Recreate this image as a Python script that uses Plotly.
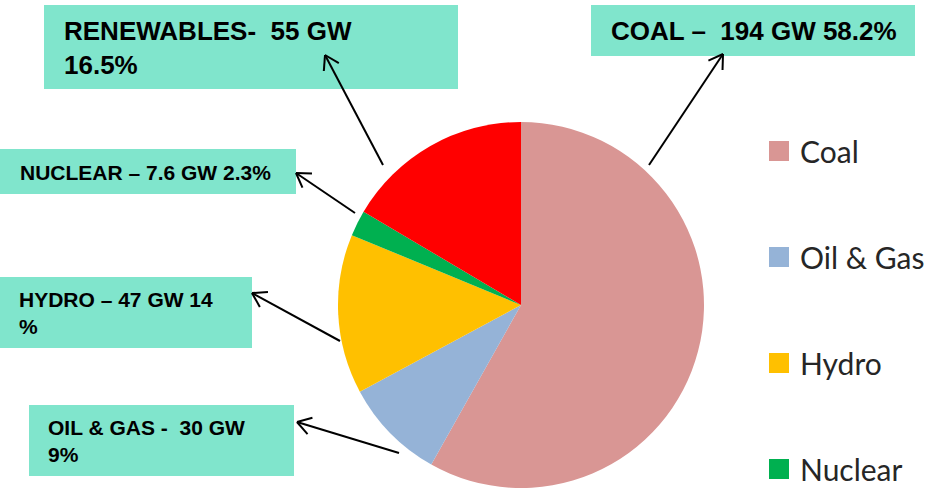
import math
import plotly.graph_objects as go

# ---------------- data ----------------
labels = ["Coal", "Oil & Gas", "Hydro", "Nuclear", "Renewables"]
capacity_gw = [194, 30, 47, 7.6, 55]
colors = ["#D99694", "#95B3D7", "#FFC000", "#00B050", "#FF0000"]
callout_texts = [
    "COAL –  194 GW 58.2%",
    "OIL & GAS -  30 GW<br>9%",
    "HYDRO – 47 GW 14<br>%",
    "NUCLEAR – 7.6 GW 2.3%",
    "RENEWABLES-  55 GW<br>16.5%",
]

# ---------------- layout helpers (pixel -> paper) ----------------
W, H = 937, 488
def px(x):
    return x / W
def py(y):
    return 1 - y / H

# callout geometry (pixels): box (x0,y0,x1,y1), text left, text center y, font size, arrow tail, arrow tip
callouts = [
    dict(box=(591, 5, 915, 56), tx=609, ty=31, fs=26, tail=(649, 165), tip=(723, 54)),
    dict(box=(29, 405, 294, 476), tx=46, ty=441, fs=21, tail=(399, 453), tip=(297, 422)),
    dict(box=(0, 277, 252, 348), tx=17, ty=313, fs=21, tail=(340, 341), tip=(252, 293)),
    dict(box=(0, 149, 296, 194), tx=18, ty=172, fs=21, tail=(355, 213), tip=(296, 173)),
    dict(box=(44, 5, 458, 89), tx=62, ty=48, fs=26, tail=(383, 165), tip=(325, 55)),
]

fig = go.Figure()

cx, cy, r = 521, 305, 183
fig.add_trace(go.Pie(
    labels=labels,
    values=capacity_gw,
    marker=dict(colors=colors, line=dict(width=0)),
    sort=False,
    direction="clockwise",
    rotation=0,
    textinfo="none",
    hoverinfo="label+value+percent",
    showlegend=False,
    domain=dict(x=[px(cx - r), px(cx + r)], y=[py(cy + r), py(cy - r)]),
))

shapes = []
annotations = []
teal = "#80E5CC"
for text, c in zip(callout_texts, callouts):
    x0, y0, x1, y1 = c["box"]
    shapes.append(dict(type="rect", xref="paper", yref="paper",
                       x0=px(x0), x1=px(x1), y0=py(y1), y1=py(y0),
                       fillcolor=teal, line=dict(width=0), layer="below"))
    annotations.append(dict(xref="paper", yref="paper", x=px(c["tx"]), y=py(c["ty"]),
                            xanchor="left", yanchor="middle", align="left",
                            text="<b>" + text + "</b>", showarrow=False,
                            font=dict(family="Liberation Sans, Arial", size=c["fs"], color="#000000")))
    # arrow line + open V head
    (tx_, ty_), (hx, hy) = c["tail"], c["tip"]
    shapes.append(dict(type="line", xref="paper", yref="paper",
                       x0=px(tx_), y0=py(ty_), x1=px(hx), y1=py(hy),
                       line=dict(color="#000000", width=2)))
    ang = math.atan2(ty_ - hy, tx_ - hx)
    for d in (math.radians(32), -math.radians(32)):
        ex = hx + 16 * math.cos(ang + d)
        ey = hy + 16 * math.sin(ang + d)
        shapes.append(dict(type="line", xref="paper", yref="paper",
                           x0=px(hx), y0=py(hy), x1=px(ex), y1=py(ey),
                           line=dict(color="#000000", width=2)))

# legend (manual, to reproduce the spacing); entries falling below the canvas are not visible
leg_x, leg_y0, leg_step, sq = 769, 151, 106, 20
for i, (lab, col) in enumerate(zip(labels, colors)):
    yc = leg_y0 + i * leg_step
    if yc + sq / 2 > H:
        continue
    shapes.append(dict(type="rect", xref="paper", yref="paper",
                       x0=px(leg_x), x1=px(leg_x + sq), y0=py(yc + sq / 2), y1=py(yc - sq / 2),
                       fillcolor=col, line=dict(width=0)))
    annotations.append(dict(xref="paper", yref="paper", x=px(leg_x + 29), y=py(yc),
                            xanchor="left", yanchor="middle", text=lab, showarrow=False,
                            font=dict(family="Lato", size=30, color="#262626")))

fig.update_layout(
    width=W, height=H,
    margin=dict(l=0, r=0, t=0, b=0),
    paper_bgcolor="#FFFFFF",
    plot_bgcolor="#FFFFFF",
    shapes=shapes,
    annotations=annotations,
)

fig.write_html("out.html", config={"displayModeBar": False},
               post_script="document.body.style.margin='0';")
